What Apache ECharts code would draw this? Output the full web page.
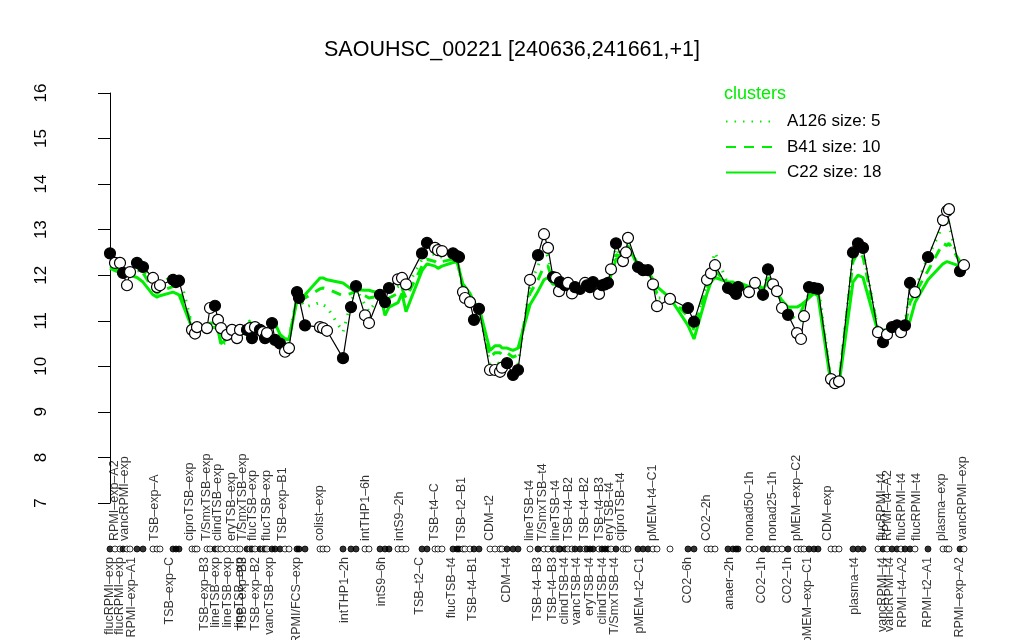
<!DOCTYPE html>
<html><head><meta charset="utf-8">
<script src="https://cdn.jsdelivr.net/npm/echarts@6/dist/echarts.min.js"></script>
<style>html,body{margin:0;padding:0;background:#fff}#c{width:1024px;height:640px}</style>
</head><body><div id="c"></div>
<script>
const titleText = 'SAOUHSC_00221 [240636,241661,+1]';
const yTicks = [7, 16, 1];
// x position of each sample (ordering units) and log expression values
const xPos = [0,1,2,2.6,3.4,4,5.4,6.6,8.6,9.4,10,12.6,13.2,13.8,16.4,17,17.4,19.4,20,21,21.6,22.2,23.4,24.4,25.4,26,27.4,28,28.4,29,30,30.6,31,31.4,32.4,33,34,35,35.8,37.4,37.8,39,42,42.6,43.4,46.6,48.2,49.2,51,51.8,54,55,55.8,57.6,58.4,59.2,62.4,63.4,65,65.6,66.4,68.6,69.4,69.8,70.6,71,72,72.8,73.8,76,77,78,78.4,79.4,80.6,81.6,84,85.6,86.8,87.6,88.6,89.2,89.8,90,91,91.6,92.4,93,94,95,95.4,96,96.6,97.8,98.4,99,99.6,100.2,101.2,102.6,103.2,103.6,105.6,106.6,107.6,108.6,109.4,112,115.6,116.8,119.4,120.2,121,123.6,124.6,125.2,125.6,127.8,129,130.6,131.6,132.6,133.4,134.4,135.6,137.4,138.2,138.8,139.8,140.8,141.6,144.2,145,145.8,148.6,149.6,150.6,153.6,154.6,155.4,156.4,157.4,158.2,159,160,161,163.6,166.6,167.4,167.8,170,170.8];
const values = [12.48,12.27,12.27,12.05,11.78,12.07,12.27,12.18,11.94,11.74,11.78,11.9,11.85,11.88,10.8,10.72,10.86,10.84,11.28,11.33,11.02,10.84,10.69,10.8,10.62,10.8,10.8,10.84,10.62,10.86,10.8,10.75,10.62,10.73,10.95,10.58,10.5,10.32,10.4,11.63,11.5,10.9,10.86,10.84,10.78,10.18,11.3,11.76,11.12,10.95,11.57,11.41,11.72,11.91,11.94,11.8,12.48,12.71,12.6,12.55,12.53,12.48,12.42,12.4,11.63,11.5,11.41,11.02,11.26,9.92,9.92,9.88,9.97,10.07,9.81,9.92,11.9,12.44,12.9,12.6,11.96,11.94,11.65,11.85,11.78,11.83,11.6,11.74,11.7,11.83,11.78,11.74,11.85,11.59,11.78,11.8,11.83,12.13,12.7,12.31,12.5,12.82,12.18,12.11,12.11,11.8,11.32,11.48,11.28,10.98,11.9,12.04,12.22,11.72,11.67,11.59,11.74,11.63,11.83,11.57,12.13,11.8,11.65,11.28,11.13,10.73,10.6,11.1,11.74,11.72,11.7,9.72,9.63,9.67,12.5,12.7,12.6,10.75,10.53,10.7,10.86,10.9,10.75,10.9,11.83,11.63,12.4,13.21,13.41,13.45,12.09,12.22];
const filled = [1,0,0,1,0,0,1,1,0,0,0,1,1,1,0,0,0,0,0,1,0,0,0,0,0,0,1,0,1,0,1,0,1,0,1,1,1,0,0,1,1,1,0,0,0,1,1,1,0,0,1,1,1,0,0,0,1,1,0,0,0,1,1,1,0,0,0,1,1,0,0,0,0,1,1,1,0,1,0,0,1,0,0,1,1,0,0,1,1,0,1,1,1,0,1,1,1,0,1,0,0,0,1,1,1,0,0,0,1,1,0,0,0,1,1,1,1,0,0,1,1,0,0,0,1,0,0,0,1,1,1,0,0,0,1,1,1,0,1,0,1,1,0,1,1,0,1,0,0,0,1,0];
const clusterA = [12.3,12.25,12.2,12.1,12.0,12.05,12.1,12.1,11.9,11.7,11.8,12.0,12.0,12.05,10.9,10.9,10.85,10.9,11.0,11.05,10.9,10.45,10.55,10.7,10.75,10.8,10.95,11.0,10.9,10.95,10.85,10.8,10.75,10.85,11.0,10.9,10.7,10.55,10.6,11.55,11.55,11.3,11.4,11.35,11.3,10.75,11.4,11.7,11.35,11.2,11.55,11.4,11.6,11.75,11.8,11.7,12.35,12.5,12.45,12.4,12.4,12.4,12.4,12.4,11.65,11.55,11.45,11.2,11.25,10.05,10.1,10.05,10.05,10.15,10.0,10.05,11.8,12.2,12.6,12.4,11.9,11.9,11.7,11.8,11.8,11.8,11.65,11.75,11.7,11.8,11.75,11.75,11.8,11.6,11.75,11.8,11.8,12.1,12.6,12.35,12.5,12.7,12.2,12.1,12.1,11.85,11.5,11.5,11.2,10.9,11.8,12.2,12.5,11.8,11.75,11.7,11.8,11.7,11.9,11.65,12.05,11.85,11.65,11.35,11.2,11.0,11.0,11.3,11.6,11.8,11.8,9.7,9.6,9.65,12.45,12.65,12.55,10.8,10.7,10.8,10.85,10.9,10.9,10.95,11.7,11.7,12.4,13.1,13.3,13.3,12.1,12.2];
const clusterB = [12.2,12.15,12.1,12.05,12.0,12.0,12.05,12.05,11.7,11.6,11.65,11.75,11.75,11.7,10.9,10.9,10.85,10.85,10.95,10.95,10.85,10.5,10.6,10.7,10.75,10.8,10.9,10.95,10.9,10.9,10.85,10.8,10.75,10.8,10.95,10.9,10.7,10.6,10.6,11.5,11.5,11.5,11.7,11.72,11.7,11.55,11.6,11.65,11.55,11.5,11.55,11.3,11.5,11.6,11.7,11.5,12.2,12.35,12.3,12.25,12.3,12.35,12.35,12.35,11.7,11.65,11.5,11.3,11.3,10.2,10.3,10.3,10.25,10.3,10.2,10.25,11.6,11.9,12.2,12.2,11.85,11.85,11.7,11.8,11.75,11.8,11.7,11.75,11.7,11.8,11.75,11.7,11.8,11.65,11.75,11.8,11.8,12.05,12.45,12.4,12.5,12.65,12.2,12.1,12.1,11.85,11.6,11.5,11.1,10.8,11.75,12.0,12.1,11.8,11.8,11.75,11.8,11.7,11.85,11.7,11.95,11.85,11.65,11.4,11.25,11.2,11.2,11.35,11.55,11.7,11.65,9.65,9.6,9.65,12.3,12.5,12.4,10.8,10.75,10.8,10.85,10.9,10.9,10.9,11.4,11.6,12.1,12.7,12.65,12.7,12.3,12.3];
const clusterC = [12.15,12.1,12.05,12.0,12.0,12.0,11.95,11.85,11.57,11.52,11.55,11.63,11.6,11.57,10.84,10.84,10.84,10.82,10.85,10.85,10.8,10.5,10.6,10.69,10.75,10.8,10.9,10.97,10.9,10.86,10.8,10.75,10.7,10.75,10.9,10.95,10.7,10.6,10.58,11.45,11.5,11.57,11.94,11.94,11.9,11.83,11.7,11.68,11.67,11.67,11.6,11.12,11.3,11.4,11.6,11.2,12.1,12.25,12.2,12.15,12.2,12.28,12.3,12.3,11.8,11.75,11.6,11.4,11.3,10.35,10.45,10.45,10.4,10.4,10.35,10.4,11.35,11.65,11.9,11.95,11.8,11.8,11.7,11.75,11.75,11.8,11.7,11.75,11.7,11.75,11.75,11.7,11.75,11.7,11.75,11.75,11.8,12.0,12.35,12.4,12.55,12.6,12.25,12.15,12.1,11.9,11.75,11.5,10.9,10.6,11.6,11.85,11.95,11.85,11.85,11.8,11.85,11.75,11.8,11.7,11.85,11.85,11.6,11.45,11.3,11.3,11.35,11.4,11.5,11.6,11.55,9.6,9.55,9.6,11.85,12.0,11.95,10.75,10.8,10.8,10.8,10.85,10.85,10.8,11.0,11.4,11.9,12.25,12.3,12.3,12.2,12.2];
const clusterNames = ['A126 size: 5', 'B41 size: 10', 'C22 size: 18'];
// condition labels shown above (top) and below (bottom) the sample strip
const topLabelPos = [1,3,9,16,19.4,21.6,24.4,26.6,28.6,31.4,34.6,42,51.2,58,65,70.4,76,84,86.6,89.2,91.8,95,98,100,102.2,108.6,119.4,128,132.6,137.4,143.6,154.4,155.6,158.4,161.4,166.4,170.6];
const topLabelText = ['RPMI-exp-A2','vancRPMI-exp','TSB-exp-A','ciproTSB-exp','T/SmxTSB-exp','clindTSB-exp','eryTSB-exp','T/SmxTSB-exp','flucTSB-exp','flucTSB-exp','TSB-exp-B1','colist-exp','intTHP1-6h','intS9-2h','TSB-t4-C','TSB-t2-B1','CDM-t2','lineTSB-t4','T/SmxTSB-t4','lineTSB-t4','TSB-t4-B2','TSB-t4-B2','TSB-t4-B3','eryTSB-t4','ciproTSB-t4','pMEM-t4-C1','CO2-2h','nonad50-1h','nonad25-1h','pMEM-exp-C2','CDM-exp','flucRPMI-t4','RPMI-t4-A2','flucRPMI-t4','flucRPMI-t4','plasma-exp','vancRPMI-exp'];
const bottomLabelPos = [0,2,4.4,12,19,21.2,23.6,26,26.6,29.2,32,37.4,47,54.4,62,68.4,72.6,79.4,85.6,88.6,91,93.4,96,98.6,101,106,115.6,124,130.4,135.6,139.6,149,154.6,156,158.6,163.6,170];
const bottomLabelText = ['flucRPMI-exp','flucRPMI-exp','RPMI-exp-A1','TSB-exp-C','TSB-exp-B3','lineTSB-exp','lineTSB-exp','lineTSB-exp','TSB-exp-B3','TSB-exp-B2','vancTSB-exp','RPMI/FCS-exp','intTHP1-2h','intS9-6h','TSB-t2-C','flucTSB-t4','TSB-t4-B1','CDM-t4','TSB-t4-B3','TSB-t4-B3','clindTSB-t4','vancTSB-t4','eryTSB-t4','clindTSB-t4','T/SmxTSB-t4','pMEM-t2-C1','CO2-6h','anaer-2h','CO2-1h','CO2-1h','pMEM-exp-C1','plasma-t4','vancRPMI-t4','vancRPMI-t4','RPMI-t4-A2','RPMI-t2-A1','RPMI-exp-A2'];

const FONT = "'Liberation Sans', Arial, Helvetica, sans-serif";
const GREEN = '#00ee00';
const xMin = -6.6, xMax = 177.6;
const dash = s => s.replace(/-/g, '\u2013');

const pts = xPos.map((x, i) => ({
  value: [x, values[i]],
  itemStyle: { color: filled[i] ? '#000' : '#fff' }
}));
const strip = xPos.map((x, i) => ({
  value: [x, 0],
  itemStyle: { color: filled[i] ? '#000' : '#fff' }
}));
const pair = arr => xPos.map((x, i) => [x, arr[i]]);

const chart = echarts.init(document.getElementById('c'), null, { renderer: 'canvas' });
chart.setOption({
  animation: false,
  backgroundColor: '#fff',
  textStyle: { fontFamily: FONT },
  title: [
    { text: titleText, left: 'center', top: 34, textStyle: { fontFamily: FONT, fontSize: 21.5, fontWeight: 'normal', color: '#000' } },
    { text: 'clusters', left: 719, top: 80, textStyle: { fontFamily: FONT, fontSize: 18, fontWeight: 'normal', color: GREEN } }
  ],
  legend: {
    data: clusterNames, orient: 'vertical', left: 720, top: 108,
    itemWidth: 50, itemHeight: 14, itemGap: 8.5,
    itemStyle: { opacity: 0 },
    textStyle: { fontFamily: FONT, fontSize: 17, color: '#000', padding: [0, 0, 0, 6] },
    selectedMode: false
  },
  grid: [
    { left: 77, right: 26, top: 93, height: 410 },
    { left: 77, right: 26, top: 539, height: 20 }
  ],
  xAxis: [
    { type: 'value', gridIndex: 0, min: xMin, max: xMax, show: false },
    { type: 'value', gridIndex: 1, min: xMin, max: xMax, show: false }
  ],
  yAxis: [
    { type: 'value', gridIndex: 0, min: yTicks[0], max: yTicks[1], interval: yTicks[2],
      splitLine: { show: false },
      axisLine: { show: true, lineStyle: { color: '#000', width: 1 } },
      axisTick: { show: true, length: 12, lineStyle: { color: '#000', width: 1 } },
      axisLabel: { rotate: 90, margin: 27, fontSize: 17, color: '#000', fontFamily: FONT } },
    { type: 'value', gridIndex: 1, min: -1, max: 1, show: false }
  ],
  series: [
    { name: clusterNames[0], type: 'line', data: pair(clusterA), symbol: 'none', z: 2,
      lineStyle: { color: GREEN, width: 3, type: [1.5, 7] }, itemStyle: { color: GREEN } },
    { name: clusterNames[1], type: 'line', data: pair(clusterB), symbol: 'none', z: 2,
      lineStyle: { color: GREEN, width: 3, type: [10, 8] }, itemStyle: { color: GREEN } },
    { name: clusterNames[2], type: 'line', data: pair(clusterC), symbol: 'none', z: 2,
      lineStyle: { color: GREEN, width: 3, type: 'solid' }, itemStyle: { color: GREEN } },
    { name: 'gene', type: 'line', data: pts, symbol: 'circle', symbolSize: 11, z: 3,
      lineStyle: { color: '#000', width: 1.2 },
      itemStyle: { borderColor: '#000', borderWidth: 1.2 } },
    { name: 'strip', type: 'scatter', xAxisIndex: 1, yAxisIndex: 1, data: strip,
      symbol: 'circle', symbolSize: 6, itemStyle: { borderColor: '#000', borderWidth: 1 } },
    { name: 'topLabels', type: 'scatter', xAxisIndex: 1, yAxisIndex: 1, symbolSize: 0,
      data: topLabelPos.map((x, i) => ({ value: [x, 0], name: topLabelText[i] })),
      itemStyle: { color: 'rgba(0,0,0,0)' },
      label: { show: true, position: 'top', distance: 8, rotate: 90, align: 'left', verticalAlign: 'middle',
        formatter: p => dash(p.name), fontSize: 12.5, color: '#000', fontFamily: FONT } },
    { name: 'bottomLabels', type: 'scatter', xAxisIndex: 1, yAxisIndex: 1, symbolSize: 0,
      data: bottomLabelPos.map((x, i) => ({ value: [x, 0], name: bottomLabelText[i] })),
      itemStyle: { color: 'rgba(0,0,0,0)' },
      label: { show: true, position: 'bottom', distance: 8, rotate: 90, align: 'right', verticalAlign: 'middle',
        formatter: p => dash(p.name), fontSize: 12.5, color: '#000', fontFamily: FONT } }
  ]
});
</script></body></html>
